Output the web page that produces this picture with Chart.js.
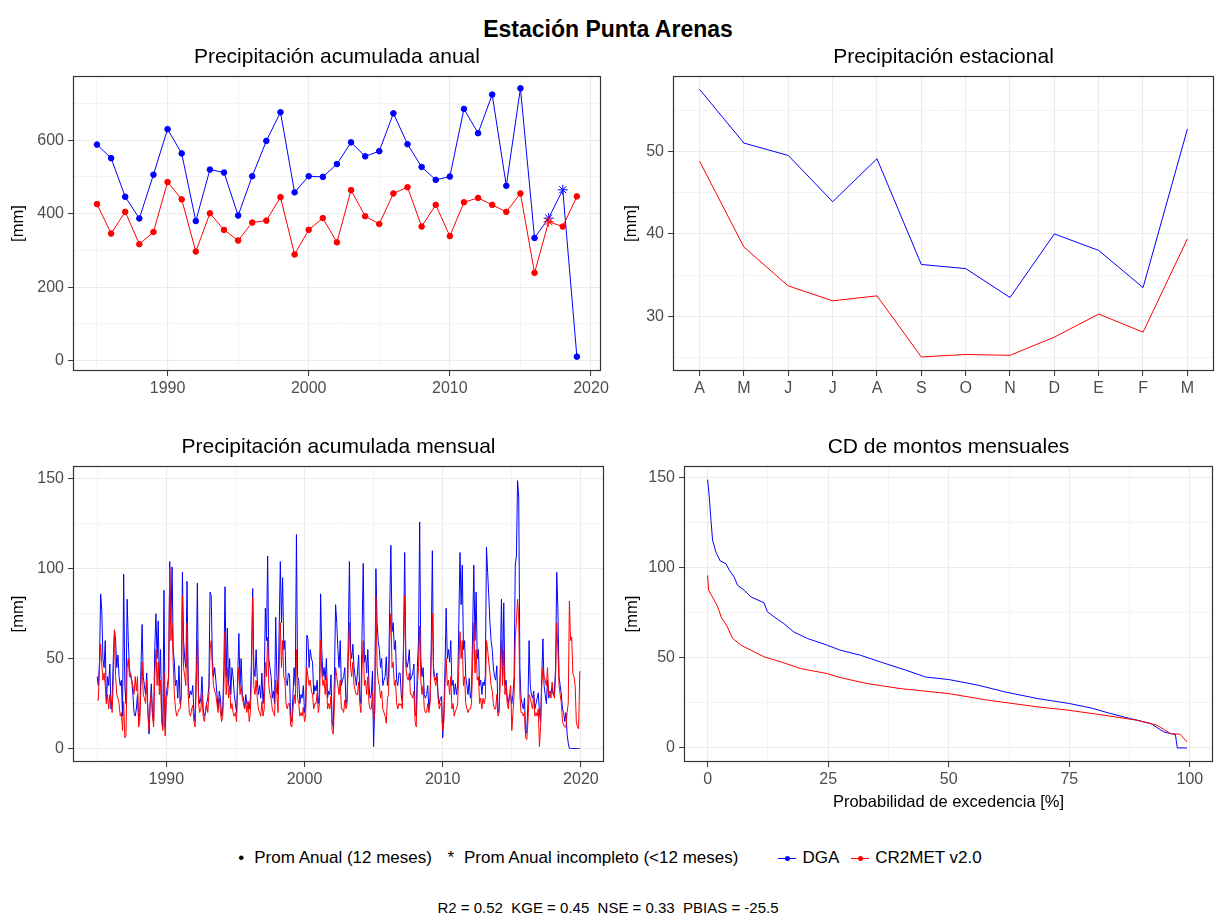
<!DOCTYPE html>
<html>
<head>
<meta charset="utf-8">
<script src="https://cdn.jsdelivr.net/npm/chart.js@4.4.1/dist/chart.umd.min.js"></script>
<style>
html,body{margin:0;padding:0;background:#fff;width:1216px;height:921px;overflow:hidden;font-family:"Liberation Sans",Arial,sans-serif;}
canvas{position:absolute;}
#title{position:absolute;left:0;width:1216px;top:15px;text-align:center;font-weight:bold;font-size:23px;color:#000;line-height:28px;}
#legend{position:absolute;left:0;width:1216px;top:848px;height:20px;display:flex;justify-content:center;align-items:center;font-size:17px;color:#000;white-space:nowrap;}
#legend .grp{display:flex;align-items:center;}
#legend .sym{display:inline-block;width:14px;text-align:center;margin-right:6px;}
#legend .key{position:relative;display:inline-block;width:18px;height:10px;margin-right:6px;}
#legend .kl{position:absolute;left:0;right:0;top:4.5px;height:1px;}
#legend .kd{position:absolute;left:6.5px;top:2.5px;width:5px;height:5px;border-radius:50%;}
#stats{position:absolute;left:0;width:1216px;top:898px;text-align:center;font-size:15px;color:#000;line-height:20px;}
</style>
</head>
<body>
<div id="title">Estación Punta Arenas</div>
<canvas id="cAnnual" width="612" height="360" style="left:0px;top:40px;"></canvas>
<canvas id="cSeason" width="606" height="360" style="left:610px;top:40px;"></canvas>
<canvas id="cMonthly" width="612" height="362" style="left:0px;top:430px;"></canvas>
<canvas id="cCD" width="606" height="390" style="left:610px;top:430px;"></canvas>
<div id="legend">
  <div class="grp">
    <span class="sym">•</span><span>Prom Anual (12 meses)</span>
    <span class="sym" style="margin-left:12px;">*</span><span>Prom Anual incompleto (&lt;12 meses)</span>
  </div>
  <div class="grp" style="margin-left:40px;">
    <span class="key"><span class="kl" style="background:#0000ff"></span><span class="kd" style="background:#0000ff"></span></span><span>DGA</span>
    <span class="key" style="margin-left:12px;"><span class="kl" style="background:#ff0000"></span><span class="kd" style="background:#ff0000"></span></span><span>CR2MET v2.0</span>
  </div>
</div>
<div id="stats">R2 = 0.52&nbsp;&nbsp;KGE = 0.45&nbsp;&nbsp;NSE = 0.33&nbsp;&nbsp;PBIAS = -25.5</div>

<script>
// ---------------- DATA ----------------
const years = [1985,1986,1987,1988,1989,1990,1991,1992,1993,1994,1995,1996,1997,1998,1999,2000,2001,2002,2003,2004,2005,2006,2007,2008,2009,2010,2011,2012,2013,2014,2015,2016,2017,2018,2019];
const annualDGA = [588,551,446,387,506,630,564,380,520,512,395,502,598,676,458,502,500,535,594,556,570,673,589,527,492,501,685,619,724,476,741,334,388,465,11];
const annualCR2MET = [426,346,405,317,350,486,439,297,401,356,327,376,381,445,289,356,388,322,464,393,372,455,472,365,424,339,431,443,424,405,455,239,378,365,447];
// 1 = complete year (12 months), 0 = incomplete year
const annualDGAComplete = [1,1,1,1,1,1,1,1,1,1,1,1,1,1,1,1,1,1,1,1,1,1,1,1,1,1,1,1,1,1,1,1,0,0,1];
const annualCR2Complete = [1,1,1,1,1,1,1,1,1,1,1,1,1,1,1,1,1,1,1,1,1,1,1,1,1,1,1,1,1,1,1,1,0,1,1];

const seasonLabels = ['A','M','J','J','A','S','O','N','D','E','F','M'];
const seasonDGA = [57.5,51.0,49.5,43.9,49.1,36.3,35.8,32.3,40.0,38.0,33.5,52.7];
const seasonCR2MET = [48.8,38.4,33.7,31.9,32.5,25.1,25.4,25.3,27.5,30.3,28.1,39.4];

const monthlyStartYear = 1985;
const monthlyDGA = [
  40,35,48,86,77,50,45,60,25,40,35,47,
  22,28,50,66,60,45,52,40,35,38,18,97,
  35,25,83,60,45,40,38,30,20,18,22,30,
  15,20,45,69,40,35,30,42,22,8,25,36,
  20,15,56,75,50,71,35,55,18,12,88,11,
  30,35,40,104,70,101,55,48,35,38,28,46,
  25,30,98,60,50,45,93,38,28,32,30,35,
  20,15,45,92,30,25,28,40,22,18,20,25,
  28,35,87,85,50,40,45,38,30,22,32,28,
  18,22,45,90,40,67,35,50,30,45,40,30,
  25,20,40,64,35,50,30,28,22,30,25,26,
  22,28,50,89,45,40,55,38,30,35,28,42,
  25,35,78,60,107,50,45,40,28,32,25,73,
  40,30,66,104,70,95,55,60,38,35,42,41,
  18,15,30,45,35,119,40,38,25,30,28,35,
  20,25,63,61,45,55,50,48,30,35,32,38,
  25,30,86,55,40,45,38,50,28,32,30,41,
  15,12,40,80,70,55,45,60,35,38,40,45,
  25,28,60,104,55,50,58,45,40,35,42,52,
  30,25,65,103,48,52,42,55,35,28,30,43,
  1,25,100,70,60,55,45,50,35,38,40,51,
  35,40,78,113,65,70,55,60,38,35,42,42,
  30,25,60,109,50,45,48,55,38,40,42,47,
  20,18,45,60,126,50,40,45,30,28,30,35,
  22,28,55,110,45,40,38,42,30,25,28,29,
  6,20,45,78,50,55,48,60,35,38,30,36,
  30,35,70,109,80,102,55,60,40,35,30,39,
  28,32,65,102,60,87,50,55,35,38,30,37,
  35,40,112,98,85,70,60,55,45,40,38,46,
  20,22,45,83,40,81,35,38,28,25,30,29,
  25,30,40,102,107,149,140,45,28,25,22,28,
  8,10,25,60,35,30,28,32,22,25,28,31,
  20,15,40,61,35,30,25,38,28,30,32,34,
  30,32,45,98,78,40,35,30,22,20,15,20,
  8,3,0,0,0,0,0,0,0,0,0,0
];
const monthlyCR2MET = [
  27,27,45,58,47,38,42,35,25,30,22,30,
  25,20,38,66,40,30,28,25,18,20,10,26,
  6,7,45,50,40,42,38,35,30,40,32,40,
  12,15,35,48,30,28,25,38,20,10,25,31,
  18,12,40,55,35,48,30,38,15,10,42,7,
  28,30,38,100,60,70,48,30,22,18,20,22,
  22,28,85,45,40,35,70,30,20,18,22,24,
  15,12,35,60,25,20,22,30,18,15,20,25,
  20,30,55,60,45,35,32,30,25,20,28,21,
  15,18,35,65,30,45,28,35,22,25,20,18,
  20,15,35,45,30,35,28,25,22,26,20,26,
  15,20,40,84,35,30,38,28,22,20,18,26,
  18,22,48,40,62,35,30,28,22,20,18,38,
  30,20,45,70,45,60,40,38,25,22,25,25,
  13,12,22,30,25,55,28,25,18,20,18,23,
  15,18,45,40,35,38,32,30,22,25,25,31,
  20,25,60,42,35,38,30,40,22,25,22,29,
  10,8,25,45,40,35,30,38,22,22,20,27,
  22,25,50,70,45,40,48,35,32,30,30,37,
  25,20,45,60,35,38,30,40,25,22,22,31,
  15,20,85,45,38,35,28,32,22,20,18,14,
  28,30,60,75,45,48,35,38,25,22,25,24,
  25,22,55,85,45,40,38,42,30,30,28,32,
  15,12,35,45,68,38,30,35,22,20,20,25,
  20,25,50,75,42,38,35,40,28,22,25,24,
  10,15,35,50,35,38,30,40,22,25,18,21,
  22,25,45,65,50,60,35,40,25,22,20,22,
  22,25,48,70,42,55,38,40,25,28,22,28,
  25,28,60,55,48,42,35,32,25,22,22,30,
  18,20,40,60,35,55,30,35,25,22,30,35,
  10,20,30,62,70,83,72,30,20,20,18,20,
  6,5,15,30,28,25,22,30,18,20,18,22,
  1,12,35,45,40,38,35,45,30,32,28,37,
  30,28,40,70,55,35,30,25,15,13,12,12,
  20,25,82,60,62,42,40,35,15,12,11,43
];

const cdDGAProb = [0,0.34,0.69,1.03,1.7,2.6,3.8,4.5,5.5,6.2,7.6,9.0,11.7,12.4,13.8,15.8,17.9,20.7,24.8,27.5,31.7,35.8,41.1,45.2,50,56.2,61.7,68.5,75,79.5,83.6,87.7,91.9,94.6,96,97.0,97.4,99.4];
const cdDGAVal  = [149.1,139.4,126.5,115.4,108.9,103.9,102.4,98.7,95,90.4,87.6,83.9,80.6,75.6,72.8,69.1,64.4,60.8,57.1,54.3,51.5,47.8,43.2,39.4,38.0,34.8,31.1,27.4,24.7,22.2,19.1,16.3,13.6,8.9,8.0,7.5,0,0];
const cdCR2Prob = [0,0.2,1.0,2.1,2.8,4.1,5.2,6.9,9.0,11.7,15.2,19.3,24.8,27.5,33.0,39.9,50,58.2,68.5,75,82.2,89,93.2,96,98,99.4];
const cdCR2Val  = [95.9,87.6,83.9,78.3,72.8,67.2,60.8,57.1,54.3,50.6,47.8,44.1,41.3,39.1,35.8,33.0,30.2,26.5,22.8,20.9,18.2,15.4,12.6,8.0,7.6,3.3];

const yearTicks = [1985,1990,1995,2000,2005,2010,2015,2020];
const yearMajor = [1990,2000,2010,2020];

// ---------------- STYLE ----------------
const BLUE = '#0000ff', RED = '#ff0000';
const GRID = '#ebebeb', TICKC = '#333333', TXT = '#4d4d4d';
Chart.defaults.font.family = "'Liberation Sans', Arial, sans-serif";
Chart.defaults.animation = false;

const boxPlugin = {
  id: 'panelBox',
  afterDraw(chart) {
    const {ctx, chartArea: a} = chart;
    ctx.save();
    ctx.strokeStyle = '#333333';
    ctx.lineWidth = 1.2;
    ctx.strokeRect(Math.round(a.left) + 0.5, Math.round(a.top) + 0.5,
                   Math.round(a.right - a.left) - 1, Math.round(a.bottom - a.top) - 1);
    ctx.restore();
  }
};

function makeScale(o) {
  const isMajor = v => o.major.some(m => Math.abs(m - v) < 1e-9);
  const horizontal = o.position === 'bottom';
  return {
    type: 'linear',
    position: o.position,
    min: o.min, max: o.max,
    afterBuildTicks: s => { s.ticks = o.ticks.map(v => ({value: v})); },
    afterFit: s => { if (horizontal) s.height = o.size; else s.width = o.size; },
    ticks: {
      autoSkip: false, maxRotation: 0, minRotation: 0,
      color: TXT, font: {size: 16}, padding: horizontal ? 3 : 4,
      callback: v => isMajor(v) ? (o.fmt ? o.fmt(v) : String(v)) : ''
    },
    grid: {
      color: GRID,
      lineWidth: c => (c.tick && isMajor(c.tick.value)) ? 1.1 : 0.55,
      drawTicks: true, tickLength: 5, tickWidth: 1,
      tickColor: c => (c.tick && isMajor(c.tick.value)) ? TICKC : 'rgba(0,0,0,0)'
    },
    border: {display: false},
    title: o.title ? {display: true, text: o.title, color: '#000', font: {size: 16.5},
                      padding: o.titlePad} : {display: false}
  };
}

function titleOpts(text) {
  return {display: true, text: text, fullSize: false, color: '#000',
          font: {size: 21, weight: 'normal'}, padding: {top: 5, bottom: 6}};
}

// ---------------- ANNUAL ----------------
new Chart(document.getElementById('cAnnual'), {
  type: 'line',
  data: {
    datasets: [
      {
        label: 'DGA', order: 2,
        data: years.map((y, i) => ({x: y, y: annualDGA[i]})),
        borderColor: BLUE, backgroundColor: BLUE, borderWidth: 1, tension: 0,
        pointStyle: annualDGAComplete.map(c => c ? 'circle' : 'star'),
        pointRadius: annualDGAComplete.map(c => c ? 2.8 : 5),
        pointBorderWidth: 1
      },
      {
        label: 'CR2MET v2.0', order: 1,
        data: years.map((y, i) => ({x: y, y: annualCR2MET[i]})),
        borderColor: RED, backgroundColor: RED, borderWidth: 1, tension: 0,
        pointStyle: annualCR2Complete.map(c => c ? 'circle' : 'star'),
        pointRadius: annualCR2Complete.map(c => c ? 2.8 : 5),
        pointBorderWidth: 1
      }
    ]
  },
  options: {
    responsive: false, animation: false,
    layout: {padding: {left: 0, right: 8, top: 0, bottom: 0}},
    plugins: {legend: {display: false}, tooltip: {enabled: false},
              title: titleOpts('Precipitación acumulada anual')},
    scales: {
      x: makeScale({position: 'bottom', min: 1983.3, max: 2020.7, ticks: yearTicks, major: yearMajor, size: 29}),
      y: makeScale({position: 'left', min: -28, max: 774, ticks: [0,100,200,300,400,500,600,700],
                    major: [0,200,400,600], size: 73, title: '[mm]', titlePad: {top: 9, bottom: 0}})
    }
  },
  plugins: [boxPlugin]
});

// ---------------- SEASONAL ----------------
new Chart(document.getElementById('cSeason'), {
  type: 'line',
  data: {
    datasets: [
      {label: 'DGA', order: 2, data: seasonDGA.map((v, i) => ({x: i + 1, y: v})),
       borderColor: BLUE, borderWidth: 1, pointRadius: 0, tension: 0},
      {label: 'CR2MET v2.0', order: 1, data: seasonCR2MET.map((v, i) => ({x: i + 1, y: v})),
       borderColor: RED, borderWidth: 1, pointRadius: 0, tension: 0}
    ]
  },
  options: {
    responsive: false, animation: false,
    layout: {padding: {left: 0, right: 2, top: 0, bottom: 0}},
    plugins: {legend: {display: false}, tooltip: {enabled: false},
              title: titleOpts('Precipitación estacional')},
    scales: {
      x: makeScale({position: 'bottom', min: 0.4, max: 12.6, ticks: [1,2,3,4,5,6,7,8,9,10,11,12],
                    major: [1,2,3,4,5,6,7,8,9,10,11,12], size: 29, fmt: v => seasonLabels[v - 1]}),
      y: makeScale({position: 'left', min: 23.4, max: 59.1, ticks: [25,30,35,40,45,50,55],
                    major: [30,40,50], size: 63, title: '[mm]', titlePad: {top: 12, bottom: 0}})
    }
  },
  plugins: [boxPlugin]
});

// ---------------- MONTHLY ----------------
const monthX = monthlyDGA.map((_, i) => monthlyStartYear + i / 12);
new Chart(document.getElementById('cMonthly'), {
  type: 'line',
  data: {
    datasets: [
      {label: 'DGA', order: 2, data: monthlyDGA.map((v, i) => ({x: monthX[i], y: v})),
       borderColor: BLUE, borderWidth: 1, pointRadius: 0, tension: 0},
      {label: 'CR2MET v2.0', order: 1, data: monthlyCR2MET.map((v, i) => ({x: monthX[i], y: v})),
       borderColor: RED, borderWidth: 1, pointRadius: 0, tension: 0}
    ]
  },
  options: {
    responsive: false, animation: false,
    layout: {padding: {left: 0, right: 8, top: 0, bottom: 0}},
    plugins: {legend: {display: false}, tooltip: {enabled: false},
              title: titleOpts('Precipitación acumulada mensual')},
    scales: {
      x: makeScale({position: 'bottom', min: 1983.25, max: 2021.67, ticks: yearTicks, major: yearMajor, size: 30}),
      y: makeScale({position: 'left', min: -7.5, max: 157, ticks: [0,25,50,75,100,125,150],
                    major: [0,50,100,150], size: 73, title: '[mm]', titlePad: {top: 9, bottom: 0}})
    }
  },
  plugins: [boxPlugin]
});

// ---------------- DURATION CURVE ----------------
new Chart(document.getElementById('cCD'), {
  type: 'line',
  data: {
    datasets: [
      {label: 'DGA', order: 2, data: cdDGAProb.map((p, i) => ({x: p, y: cdDGAVal[i]})),
       borderColor: BLUE, borderWidth: 1, pointRadius: 0, tension: 0},
      {label: 'CR2MET v2.0', order: 1, data: cdCR2Prob.map((p, i) => ({x: p, y: cdCR2Val[i]})),
       borderColor: RED, borderWidth: 1, pointRadius: 0, tension: 0}
    ]
  },
  options: {
    responsive: false, animation: false,
    layout: {padding: {left: 0, right: 3, top: 0, bottom: 0}},
    plugins: {legend: {display: false}, tooltip: {enabled: false},
              title: titleOpts('CD de montos mensuales')},
    scales: {
      x: makeScale({position: 'bottom', min: -4.9, max: 104.8, ticks: [0,12.5,25,37.5,50,62.5,75,87.5,100],
                    major: [0,25,50,75,100], size: 58, title: 'Probabilidad de excedencia [%]',
                    titlePad: {top: 0, bottom: 8}}),
      y: makeScale({position: 'left', min: -7.8, max: 156.5, ticks: [0,25,50,75,100,125,150],
                    major: [0,50,100,150], size: 74, title: '[mm]', titlePad: {top: 13, bottom: 0}})
    }
  },
  plugins: [boxPlugin]
});
</script>
</body>
</html>
